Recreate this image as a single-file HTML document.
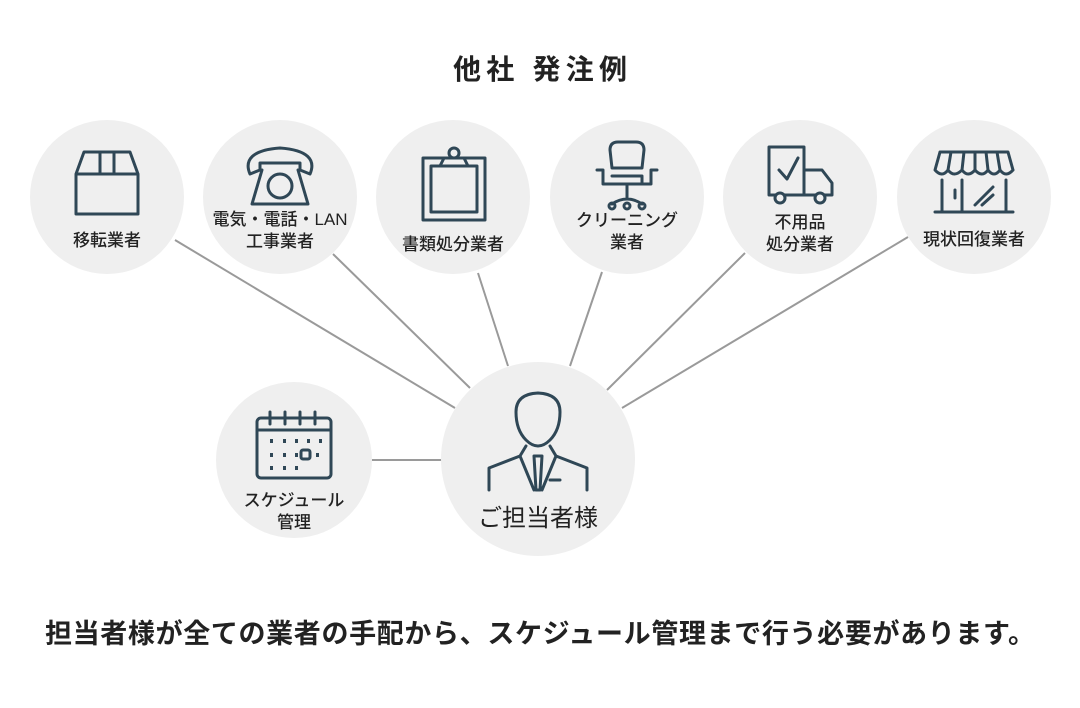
<!DOCTYPE html>
<html><head><meta charset="utf-8"><style>
html,body{margin:0;padding:0;background:#fff;}
svg{display:block;}
text{font-family:"Liberation Sans","Noto Sans CJK JP",sans-serif;fill:#222;}
.ic{fill:none;stroke:#2f4756;stroke-width:3;stroke-linejoin:round;stroke-linecap:round;}
</style></head><body>
<svg width="1080" height="708" viewBox="0 0 1080 708">
<text x="453" y="79" font-size="28" font-weight="bold" textLength="174" lengthAdjust="spacing">他社 発注例</text>
<g stroke="#9a9a9a" stroke-width="2">
<line x1="175" y1="240" x2="455" y2="408"/>
<line x1="333" y1="254" x2="470" y2="388"/>
<line x1="478" y1="273" x2="508" y2="366"/>
<line x1="602" y1="272" x2="570" y2="366"/>
<line x1="745" y1="253" x2="607" y2="390"/>
<line x1="908" y1="237" x2="622" y2="408"/>
<line x1="372" y1="460" x2="442" y2="460"/>
</g>
<g fill="#efefef">
<circle cx="107" cy="197" r="77"/><circle cx="280" cy="197" r="77"/><circle cx="453" cy="197" r="77"/>
<circle cx="627" cy="197" r="77"/><circle cx="800" cy="197" r="77"/><circle cx="974" cy="197" r="77"/>
<circle cx="294" cy="460" r="78"/><circle cx="538" cy="459" r="97"/>
</g>
<g class="ic"><path d="M76 174 L84 152 H130 L138 174 V214 H76 Z M76 174 H138 M100 152 V174 H114 V152"/></g>
<g class="ic"><path d="M250 174 C244 160 252 150 280 148 C308 150 316 160 310 174 L300 170 V163 H260 V170 Z M262 170 L252 204 H308 L298 170"/><circle cx="280" cy="186" r="12"/></g>
<g class="ic"><rect x="423" y="158" width="62" height="62"/><rect x="431" y="166" width="46" height="46"/><path d="M440 166 L444 158 H464 L468 166 Z"/><circle cx="454" cy="153" r="5"/></g>
<g class="ic"><path d="M612 168 L610 150 Q610 142 618 142 H636 Q644 142 644 150 L642 168 Z M597 170 H603 V184 H651 V170 H657 M612 176 H642 V184 M627 184 V198 M612 204 Q627 194 642 204"/><circle cx="612" cy="206" r="3"/><circle cx="627" cy="206" r="3"/><circle cx="642" cy="206" r="3"/></g>
<g class="ic"><path d="M769 147 H804 V195 H769 Z M804 170 H822 L832 183 V195 H804 M779 170 L787 179 L798 158"/><circle cx="780" cy="198" r="5" fill="#efefef"/><circle cx="820" cy="198" r="5" fill="#efefef"/></g>
<g class="ic"><path d="M940 152 H1008 L1013 170 M940 152 L935 170 Q942 178 948 170 Q954 178 962 170 Q968 178 975 170 Q982 178 988 170 Q994 178 1000 170 Q1006 178 1013 170 M948 170 L951 152 M962 170 L964 152 M975 170 V152 M988 170 L986 152 M1000 170 L997 152 M942 180 V212 M1006 180 V212 M935 212 H1013 M962 180 V212 M955 190 V198 M975 205 L993 187 M982 205 L993 195"/></g>
<g class="ic"><rect x="257" y="418" width="74" height="60" rx="4"/><path d="M257 430 H331 M270 412 V424 M285 412 V424 M300 412 V424 M315 412 V424"/><rect x="301" y="450" width="9" height="9" rx="2"/></g>
<g fill="#2f4756"><rect x="270" y="439" width="3" height="4"/><rect x="283" y="439" width="3" height="4"/><rect x="295" y="439" width="3" height="4"/><rect x="307" y="439" width="3" height="4"/><rect x="319" y="439" width="3" height="4"/>
<rect x="270" y="453" width="3" height="4"/><rect x="283" y="453" width="3" height="4"/><rect x="295" y="453" width="3" height="4"/><rect x="316" y="453" width="3" height="4"/>
<rect x="270" y="466" width="3" height="4"/><rect x="283" y="466" width="3" height="4"/><rect x="295" y="466" width="3" height="4"/></g>
<g class="ic"><path d="M526 440 Q516 430 516 412 Q516 394 538 393 Q560 394 560 412 Q560 430 550 440 Q544 446 538 446 Q532 446 526 440 Z M526 446 L520 456 L489 468 V490 M550 446 L556 456 L587 468 V490 M520 456 L534 490 M556 456 L542 490 M534 456 H542 L540 490 H536 Z M550 480 H560"/></g>
<g font-size="17" text-anchor="middle" font-weight="500">
<text x="107" y="246">移転業者</text>
<text x="280" y="225">電気・電話・LAN</text><text x="280" y="247">工事業者</text>
<text x="453" y="250">書類処分業者</text>
<text x="627" y="226">クリーニング</text><text x="627" y="248">業者</text>
<text x="800" y="228">不用品</text><text x="800" y="250">処分業者</text>
<text x="974" y="245">現状回復業者</text>
<text x="294" y="506">スケジュール</text><text x="294" y="528">管理</text>
</g>
<text x="538" y="526" font-size="24" text-anchor="middle">ご担当者様</text>
<text x="45" y="643" font-size="27" font-weight="bold" textLength="990" lengthAdjust="spacing">担当者様が全ての業者の手配から、スケジュール管理まで行う必要があります。</text>
</svg>
</body></html>
